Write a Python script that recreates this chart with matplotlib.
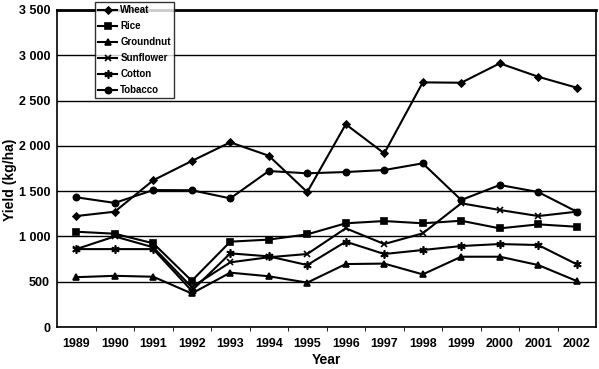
import matplotlib
matplotlib.use("Agg")
import matplotlib.pyplot as plt
from matplotlib.ticker import FuncFormatter, MultipleLocator

plt.rcParams['font.family'] = ['Liberation Sans Narrow', 'Liberation Sans', 'DejaVu Sans']
plt.rcParams['font.weight'] = 'bold'

years = ["1989", "1990", "1991", "1992", "1993", "1994", "1995",
         "1996", "1997", "1998", "1999", "2000", "2001", "2002"]

wheat = [1225, 1273, 1620, 1833, 2039, 1891, 1490, 2238, 1917, 2701, 2697, 2911, 2763, 2642]
rice = [1052, 1030, 924, 510, 942, 965, 1023, 1145, 1170, 1145, 1173, 1089, 1133, 1107]
groundnut = [550, 565, 555, 370, 600, 560, 490, 695, 700, 581, 776, 776, 684, 508]
sunflower = [860, 1000, 880, 440, 714, 770, 806, 1090, 916, 1034, 1366, 1292, 1225, 1273]
cotton = [860, 860, 860, 400, 813, 780, 684, 942, 806, 850, 894, 916, 905, 692]
tobacco = [1432, 1370, 1512, 1510, 1420, 1722, 1697, 1711, 1733, 1807, 1402, 1568, 1490, 1273]

series = [
    ("Wheat", wheat, "D", 3.5),
    ("Rice", rice, "s", 4.5),
    ("Groundnut", groundnut, "^", 4.5),
    ("Sunflower", sunflower, "x", 5),
    ("Cotton", cotton, (6, 2, 0), 6),
    ("Tobacco", tobacco, "o", 4.5),
]

fig = plt.figure(figsize=(5.99, 3.69), dpi=100)
ax = fig.add_axes([57 / 599, 1 - 327 / 369, 539 / 599, 317 / 369])

x = range(len(years))
for name, vals, mk, ms in series:
    ax.plot(x, vals, color="black", lw=1.5, marker=mk, markersize=ms,
            markeredgewidth=1.2, label=name)

ax.set_xlim(-0.5, len(years) - 0.5)
ax.set_ylim(0, 3500)
ax.yaxis.set_major_locator(MultipleLocator(500))
ax.yaxis.set_major_formatter(FuncFormatter(lambda v, p: f"{int(v):,}".replace(",", " ")))
ax.set_xticks(list(x))
ax.set_xticklabels(years)
ax.set_xticks([i + 0.5 for i in range(len(years) - 1)], minor=True)
ax.tick_params(axis="x", which="major", length=0, labelsize=9, pad=8)
ax.tick_params(axis="x", which="minor", length=3, direction="out")
ax.tick_params(axis="y", length=0, labelsize=9, pad=5)
ax.grid(axis="y", color="black", lw=1)
ax.set_axisbelow(True)
for s in ax.spines.values():
    s.set_color("black")
    s.set_linewidth(1.2)
ax.spines["top"].set_linewidth(2)

fig.text(10 / 599, 1 - 180 / 369, "Yield (kg/ha)", rotation=90, ha="center",
         va="center", fontsize=10, fontweight="bold")
ax.set_xlabel("Year", fontsize=10, fontweight="bold", labelpad=2)

leg = ax.legend(loc="upper left", bbox_to_anchor=(95 / 599, 1 - 2 / 369),
                bbox_transform=fig.transFigure, fontsize=7, frameon=True,
                fancybox=False, edgecolor="black", handlelength=2.0,
                handletextpad=0.3, labelspacing=0.62, borderpad=0.3,
                borderaxespad=0)
leg.get_frame().set_linewidth(1)

fig.savefig("out.png", dpi=100)
